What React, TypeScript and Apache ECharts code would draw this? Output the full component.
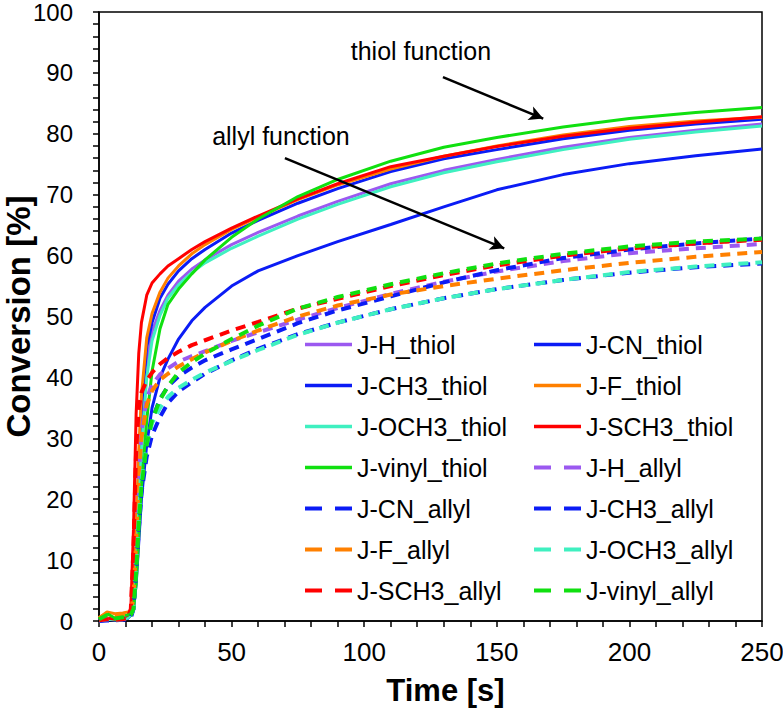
import React, { useEffect, useRef } from 'react';
import * as echarts from 'echarts';

// Time axis samples [s]
const time = [0, 3, 6, 9, 11, 12, 13, 14, 15, 16, 18, 20, 23, 26, 30, 35, 40, 50, 60, 75, 90, 110, 130, 150, 175, 200, 225, 250];

// Thiol conversion [%]
const hThiol = [0.1, 0.3, 0.2, 0.3, 0.5, 1, 2, 8, 20, 30, 42, 47.5, 51, 53.5, 55.8, 57.8, 59.3, 61.8, 63.8, 66.5, 68.9, 71.8, 74, 75.8, 77.8, 79.4, 80.6, 81.6];
const cnThiol = [0.1, 0.2, 0.2, 0.3, 0.5, 1, 2, 6, 13, 20, 29, 35, 40, 43, 46.3, 49.3, 51.5, 55, 57.5, 60, 62.3, 65.1, 68, 70.8, 73.3, 75.1, 76.4, 77.5];
const ch3Thiol = [0.1, 0.3, 0.2, 0.3, 0.5, 1, 3, 12, 26, 35, 45, 49, 53, 55.3, 57.5, 59.5, 61, 63.7, 65.8, 68.6, 71, 73.8, 75.9, 77.4, 79.2, 80.6, 81.6, 82.4];
const fThiol = [0.5, 1.5, 1.2, 1.3, 1.5, 1.5, 4, 14, 28, 37, 46.5, 50.5, 54, 56.3, 58.3, 60.3, 61.8, 64.3, 66.3, 69.2, 71.6, 74.2, 76.3, 78, 79.8, 81.2, 82.1, 82.7];
const och3Thiol = [0.1, 0.3, 0.2, 0.3, 0.5, 1, 2, 7, 18, 28, 40, 46, 50.2, 53, 55.2, 57.2, 58.8, 61.2, 63.2, 66, 68.4, 71.3, 73.6, 75.4, 77.4, 79.1, 80.3, 81.3];
const sch3Thiol = [0.2, 0.5, 0.3, 0.5, 1, 2, 15, 34, 44, 49, 53.5, 55.5, 57, 58.3, 59.5, 61, 62.3, 64.5, 66.5, 69.3, 71.8, 74.6, 76.3, 77.9, 79.6, 80.9, 81.9, 82.8];
const vinylThiol = [0.3, 1.2, 0.5, 0.8, 1, 1.5, 2, 6, 14, 22, 33, 41, 48, 52, 54.5, 57, 59.3, 63, 66, 69.7, 72.5, 75.5, 77.8, 79.4, 81.1, 82.5, 83.5, 84.3];

// Allyl conversion [%]
const hAllyl = [0.1, 0.3, 0.2, 0.3, 0.5, 1, 3, 12, 24, 31, 36.5, 38.8, 40.5, 41.5, 42.6, 43.5, 44.3, 46, 47.4, 49.5, 51.4, 53.7, 55.7, 57.4, 59.1, 60.4, 61.2, 61.9];
const cnAllyl = [0, 0.1, 0.1, 0.2, 0.3, 0.5, 2, 8, 15, 21, 27, 30.5, 33.5, 35.8, 37.7, 39.2, 40.6, 42.8, 44.7, 47.1, 49, 51.2, 53, 54.5, 56, 57.2, 58.1, 58.7];
const ch3Allyl = [0.1, 0.2, 0.2, 0.3, 0.4, 0.8, 2, 9, 17, 23, 29, 33, 36.5, 38.5, 40.2, 41.6, 42.8, 44.6, 46.3, 48.9, 51, 53.3, 55.6, 57.6, 59.6, 61, 62, 62.8];
const fAllyl = [0.5, 1.2, 1, 1.1, 1.2, 1.5, 4, 13, 24, 30, 35.5, 37.8, 39.6, 40.6, 41.8, 43, 44.1, 46, 47.7, 50, 51.8, 53.6, 55, 56.2, 57.6, 58.8, 59.8, 60.6];
const och3Allyl = [0.1, 0.3, 0.2, 0.3, 0.5, 1, 2, 9, 17, 23, 29, 32.5, 35, 36.8, 38.3, 39.6, 40.8, 42.7, 44.5, 47, 49, 51.2, 53, 54.5, 56, 57.3, 58.2, 58.9];
const sch3Allyl = [0.1, 0.3, 0.2, 0.3, 0.5, 2, 12, 28, 35, 37.5, 39.5, 40.8, 42.2, 43.2, 44.2, 45.3, 46.1, 47.7, 49.1, 51.3, 52.9, 55, 56.8, 58.4, 60, 61.2, 62, 62.6];
const vinylAllyl = [0.3, 1, 0.4, 0.6, 0.8, 1, 2, 8, 16, 22, 29, 33, 36.3, 38.6, 40.8, 42.5, 43.9, 46.3, 48.5, 51.3, 53.2, 55.3, 57.1, 58.7, 60.3, 61.5, 62.3, 62.8];

// Annotations in data coordinates [time, conversion]
const thiolLabelAt = [121.4, 93.6];
const thiolArrowFrom = [129.7, 89.3];
const thiolArrowTo = [167.5, 82.5];
const allylLabelAt = [68.6, 79.6];
const allylArrowFrom = [70.1, 76.0];
const allylArrowTo = [152.8, 61.2];

const C_H = '#9b59f0';
const C_BLUE = '#0b1cf5';
const C_F = '#ff8000';
const C_OCH3 = '#3ff0c0';
const C_SCH3 = '#ff0000';
const C_VINYL = '#10e010';

const seriesDefs = [
  { name: 'J-H_thiol', values: hThiol, color: C_H, dashed: false },
  { name: 'J-CN_thiol', values: cnThiol, color: C_BLUE, dashed: false },
  { name: 'J-CH3_thiol', values: ch3Thiol, color: C_BLUE, dashed: false },
  { name: 'J-F_thiol', values: fThiol, color: C_F, dashed: false },
  { name: 'J-OCH3_thiol', values: och3Thiol, color: C_OCH3, dashed: false },
  { name: 'J-SCH3_thiol', values: sch3Thiol, color: C_SCH3, dashed: false },
  { name: 'J-vinyl_thiol', values: vinylThiol, color: C_VINYL, dashed: false },
  { name: 'J-H_allyl', values: hAllyl, color: C_H, dashed: true },
  { name: 'J-CN_allyl', values: cnAllyl, color: C_BLUE, dashed: true },
  { name: 'J-CH3_allyl', values: ch3Allyl, color: C_BLUE, dashed: true },
  { name: 'J-F_allyl', values: fAllyl, color: C_F, dashed: true },
  { name: 'J-OCH3_allyl', values: och3Allyl, color: C_OCH3, dashed: true },
  { name: 'J-SCH3_allyl', values: sch3Allyl, color: C_SCH3, dashed: true },
  { name: 'J-vinyl_allyl', values: vinylAllyl, color: C_VINYL, dashed: true },
];

const FONT = 'Arial, "Liberation Sans", Helvetica, sans-serif';

export default function App() {
  const ref = useRef<HTMLDivElement>(null);

  useEffect(() => {
    if (!ref.current) return;
    const chart = echarts.init(ref.current, null, { renderer: 'svg' });

    const series: any[] = seriesDefs.map((s) => ({
      name: s.name,
      type: 'line',
      symbol: 'none',
      showSymbol: false,
      silent: true,
      data: time.map((t, j) => [t, s.values[j]]),
      lineStyle: {
        color: s.color,
        width: s.dashed ? 4 : 3,
        type: s.dashed ? [10, 7] : 'solid',
      },
      itemStyle: { color: s.color },
    }));

    series[0].markLine = {
      silent: true,
      symbol: ['none', 'arrow'],
      symbolSize: [11, 14],
      label: { show: false },
      lineStyle: { color: '#000', width: 2.5, type: 'solid' },
      data: [
        [{ coord: thiolArrowFrom }, { coord: thiolArrowTo }],
        [{ coord: allylArrowFrom }, { coord: allylArrowTo }],
      ],
    };

    const legendItem = (name: string) => {
      const d = seriesDefs.find((s) => s.name === name)!;
      return d.dashed ? { name, lineStyle: { type: [17, 13], width: 4 } } : { name, lineStyle: { width: 3.5 } };
    };
    const col1 = seriesDefs.filter((_, i) => i % 2 === 0).map((s) => legendItem(s.name));
    const col2 = seriesDefs.filter((_, i) => i % 2 === 1).map((s) => legendItem(s.name));
    const legendCommon = {
      orient: 'vertical',
      top: 332,
      padding: 0,
      itemWidth: 47,
      itemHeight: 14,
      itemGap: 16,
      selectedMode: false,
      itemStyle: { opacity: 0, borderWidth: 0 },
      textStyle: { fontFamily: FONT, fontSize: 25, color: '#000', lineHeight: 24 },
    };

    chart.setOption({
      animation: false,
      backgroundColor: '#fff',
      grid: {
        left: 99,
        right: 21,
        top: 12,
        bottom: 91,
        show: true,
        borderColor: '#000',
        borderWidth: 1.5,
        containLabel: false,
        outerBoundsMode: 'none',
      },
      legend: [
        { ...legendCommon, left: 303, data: col1 },
        { ...legendCommon, left: 532, data: col2 },
      ],
      xAxis: {
        type: 'value',
        min: 0,
        max: 250,
        interval: 50,
        name: 'Time [s]',
        nameLocation: 'middle',
        nameGap: 54,
        nameMoveOverlap: false,
        nameTextStyle: {
          fontFamily: FONT,
          fontSize: 31,
          fontWeight: 'bold',
          color: '#000',
          padding: [0, 0, 0, 30],
        },
        axisLine: { onZero: false, lineStyle: { color: '#000', width: 1.5 } },
        axisTick: { inside: false, length: 6, lineStyle: { color: '#000', width: 1.5 } },
        minorTick: { show: true, splitNumber: 5, length: 6, lineStyle: { color: '#000', width: 1.5 } },
        axisLabel: { fontFamily: FONT, fontSize: 26, color: '#000', margin: 18 },
        splitLine: { show: false },
        minorSplitLine: { show: false },
      },
      yAxis: {
        type: 'value',
        min: 0,
        max: 100,
        interval: 10,
        name: 'Conversion [%]',
        nameLocation: 'middle',
        nameGap: 64,
        nameMoveOverlap: false,
        nameTextStyle: { fontFamily: FONT, fontSize: 33, fontWeight: 'bold', color: '#000' },
        axisLine: { onZero: false, lineStyle: { color: '#000', width: 1.5 } },
        axisTick: { inside: false, length: 6, lineStyle: { color: '#000', width: 1.5 } },
        minorTick: { show: true, splitNumber: 5, length: 6, lineStyle: { color: '#000', width: 1.5 } },
        axisLabel: { fontFamily: FONT, fontSize: 24, color: '#000', margin: 26 },
        splitLine: { show: false },
        minorSplitLine: { show: false },
      },
      series,
    });

    const p1 = chart.convertToPixel({ gridIndex: 0 }, thiolLabelAt) as number[];
    const p2 = chart.convertToPixel({ gridIndex: 0 }, allylLabelAt) as number[];
    chart.setOption({
      graphic: [
        {
          type: 'text',
          x: p1[0],
          y: p1[1],
          silent: true,
          style: { text: 'thiol function', fontFamily: FONT, fontSize: 25, fill: '#000', align: 'center', verticalAlign: 'middle' },
        },
        {
          type: 'text',
          x: p2[0],
          y: p2[1],
          silent: true,
          style: { text: 'allyl function', fontFamily: FONT, fontSize: 25, fill: '#000', align: 'center', verticalAlign: 'middle' },
        },
      ],
    });

    return () => chart.dispose();
  }, []);

  return (
    <div
      ref={ref}
      style={{ position: 'fixed', left: 0, top: 0, width: 783, height: 712, background: '#fff' }}
    />
  );
}
